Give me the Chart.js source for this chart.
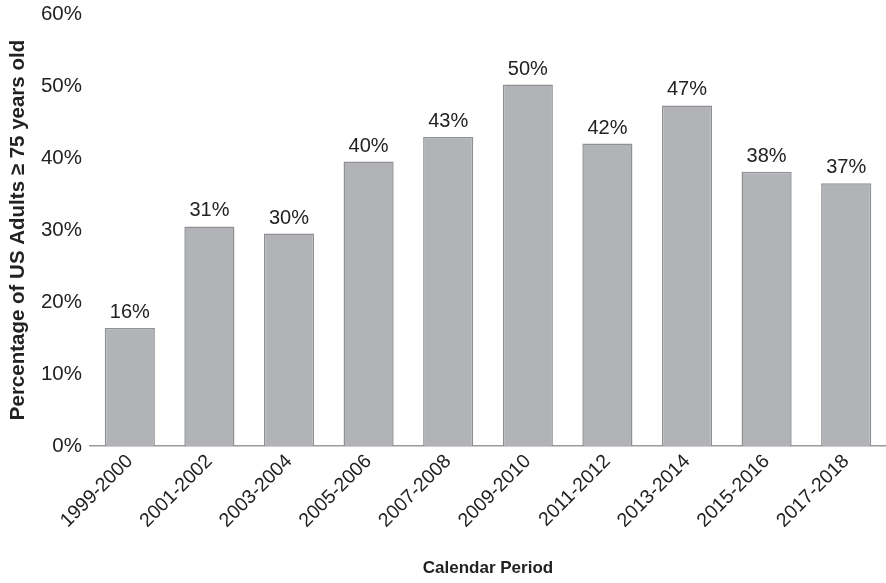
<!DOCTYPE html>
<html>
<head>
<meta charset="utf-8">
<script src="https://cdn.jsdelivr.net/npm/chart.js@4.4.1/dist/chart.umd.min.js"></script>
<style>
  html, body { margin: 0; padding: 0; background: #fff; }
  #wrap { width: 886px; height: 583px; }
</style>
</head>
<body>
<div id="wrap"><canvas id="bars"></canvas></div>
<script>
var periods = ['1999-2000', '2001-2002', '2003-2004', '2005-2006', '2007-2008',
               '2009-2010', '2011-2012', '2013-2014', '2015-2016', '2017-2018'];
var shares = [16.4, 30.5, 29.5, 39.5, 42.9, 50.2, 42.0, 47.3, 38.1, 36.5];
var yTicks = [0, 10, 20, 30, 40, 50, 60];

var font = "'Liberation Sans', Arial, Helvetica, sans-serif";

// writes the rounded percentage above each bar
var barValues = {
    id: 'barValues',
    afterDatasetsDraw: function(chart) {
        var ctx = chart.ctx;
        var meta = chart.getDatasetMeta(0);
        ctx.save();
        ctx.font = '20px ' + font;
        ctx.fillStyle = '#222';
        ctx.textAlign = 'center';
        ctx.textBaseline = 'alphabetic';
        meta.data.forEach(function(bar, i) {
            ctx.fillText(Math.round(shares[i]) + '%', bar.x, bar.y - 10);
        });
        ctx.restore();
    }
};

new Chart(document.getElementById('bars'), {
    type: 'bar',
    data: {
        labels: periods,
        datasets: [{
            data: shares,
            backgroundColor: '#b2b3b7',
            borderColor: '#8f9094',
            borderWidth: 1.5,
            barPercentage: 0.63,
            categoryPercentage: 1
        }]
    },
    options: {
        responsive: true,
        maintainAspectRatio: false,
        animation: false,
        layout: { padding: { top: 14, right: 0, left: 0, bottom: 0 } },
        plugins: {
            legend: { display: false },
            tooltip: { enabled: false }
        },
        scales: {
            x: {
                grid: { display: false, drawTicks: false },
                border: { display: true, color: '#9a9a9a', width: 1.5 },
                ticks: {
                    color: '#222',
                    font: { family: font, size: 19.5 },
                    minRotation: 45,
                    maxRotation: 45,
                    padding: 4
                },
                title: {
                    display: true,
                    text: 'Calendar Period',
                    color: '#222',
                    font: { family: font, size: 17, weight: 'bold' },
                    padding: { top: 4, bottom: 4 }
                },
                afterFit: function(scale) { scale.height = 137; }
            },
            y: {
                min: 0,
                max: 60,
                afterBuildTicks: function(scale) {
                    scale.ticks = yTicks.map(function(v) { return { value: v }; });
                },
                grid: { display: false, drawTicks: false },
                border: { display: false },
                ticks: {
                    color: '#222',
                    font: { family: font, size: 20.5 },
                    padding: 8,
                    callback: function(v) { return v + '%'; }
                },
                title: {
                    display: true,
                    text: 'Percentage of US Adults \u2265 75 years old',
                    color: '#222',
                    font: { family: font, size: 20.5, weight: 'bold' },
                    padding: { top: 6, bottom: 4 }
                },
                afterFit: function(scale) {
                    scale.width = 90;
                    // let the layout padding alone decide where 60% sits
                    scale.paddingTop = 0;
                    scale.paddingBottom = 0;
                }
            }
        }
    },
    plugins: [barValues]
});
</script>
</body>
</html>
